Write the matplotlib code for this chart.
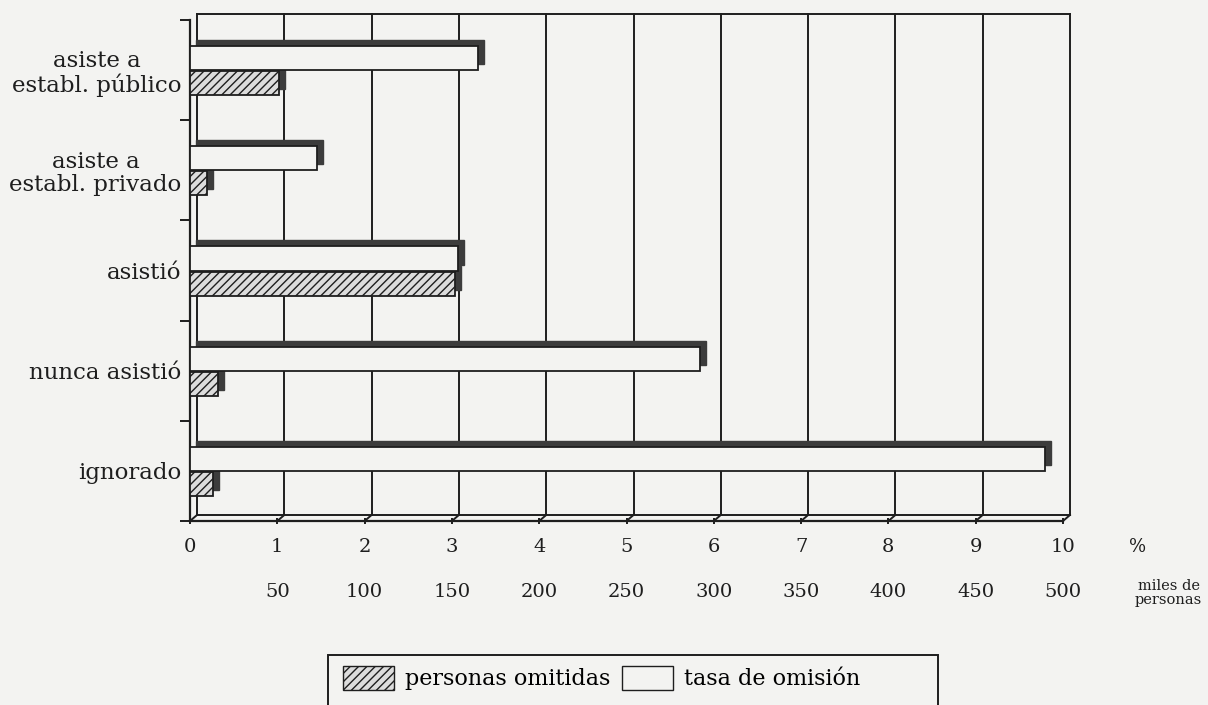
import matplotlib.pyplot as plt
from matplotlib.patches import Patch, Rectangle
import matplotlib.transforms as mtransforms

# Datos
categorias = ["asiste a\nestabl. público", "asiste a\nestabl. privado", "asistió",
              "nunca asistió", "ignorado"]
tasa_omision = [3.30, 1.45, 3.07, 5.84, 9.79]          # %
personas_omitidas = [51, 10, 152, 16, 13]              # miles de personas
ticks_pct = list(range(0, 11))
ticks_miles = [50, 100, 150, 200, 250, 300, 350, 400, 450, 500]

BG = "#f3f3f1"
INK = "#1e1e1e"
SHADOW = "#3c3c3c"
HATCH_FILL = "#dcdcdc"

plt.rcParams["font.family"] = ["DejaVu Serif"]
plt.rcParams["hatch.linewidth"] = 1.0
plt.rcParams["hatch.color"] = INK

fig = plt.figure(figsize=(12.08, 7.05), dpi=100, facecolor=BG)
ax = fig.add_axes([190 / 1208, 184 / 705, 873 / 1208, 501 / 705])
ax.set_facecolor(BG)
ax.set_xlim(0, 10)
ax.set_ylim(5, 0)

# profundidad del "3D" en unidades de datos
dx = 7 / 87.3
dy = 6 / 100.2

# pared del fondo: rejilla y marco
for i in ticks_pct[1:]:
    ax.plot([i + dx, i + dx], [-dy, 5 - dy], color=INK, lw=1.4, zorder=1, clip_on=False)
ax.plot([dx, 10 + dx], [-dy, -dy], color=INK, lw=1.4, zorder=1, clip_on=False)
ax.plot([dx, dx], [-dy, 5 - dy], color=INK, lw=1.4, zorder=1, clip_on=False)
ax.plot([dx, 10 + dx], [5 - dy, 5 - dy], color=INK, lw=1.4, zorder=1, clip_on=False)
for i in ticks_pct:
    ax.plot([i, i + dx], [5, 5 - dy], color=INK, lw=1.4, zorder=1, clip_on=False)

# barras
h = 0.24
pos_tasa = [k + 0.38 for k in range(len(categorias))]
pos_pers = [k + 0.63 for k in range(len(categorias))]
omit_pct = [v / 50 for v in personas_omitidas]

shift = mtransforms.offset_copy(ax.transData, fig=fig, x=6, y=6, units="dots")
ax.barh(pos_pers, omit_pct, height=h, color=SHADOW, edgecolor=SHADOW, transform=shift, zorder=2)
ax.barh(pos_tasa, tasa_omision, height=h, color=SHADOW, edgecolor=SHADOW, transform=shift, zorder=2)
ax.barh(pos_pers, omit_pct, height=h, color=HATCH_FILL, edgecolor=INK, hatch="////",
        lw=1.3, zorder=4)
ax.barh(pos_tasa, tasa_omision, height=h, color=BG, edgecolor=INK, lw=1.3, zorder=4)

# ejes
for s in ["top", "right"]:
    ax.spines[s].set_visible(False)
for s in ["left", "bottom"]:
    ax.spines[s].set_linewidth(1.6)
    ax.spines[s].set_color(INK)

ax.set_yticks([k + 0.5 for k in range(len(categorias))])
ax.set_yticklabels(categorias, fontsize=16.5, multialignment="center", linespacing=1.1)
ax.set_yticks(range(0, 6), minor=True)
ax.tick_params(axis="y", which="major", length=0, pad=6, colors=INK)
ax.tick_params(axis="y", which="minor", length=7, width=1.4, colors=INK)

ax.set_xticks(ticks_pct)
ax.set_xticklabels([str(t) for t in ticks_pct], fontsize=14)
ax.tick_params(axis="x", length=4, width=1.4, direction="inout", pad=10, colors=INK)

for i, m in enumerate(ticks_miles, start=1):
    ax.annotate(str(m), xy=(i, 0), xycoords=("data", "axes fraction"),
                xytext=(0, -51), textcoords="offset points",
                ha="center", va="center", fontsize=14, color=INK)
ax.annotate("%", xy=(10, 0), xycoords=("data", "axes fraction"),
            xytext=(54, -19), textcoords="offset points",
            ha="center", va="center", fontsize=13, color=INK)
ax.annotate("miles de\npersonas", xy=(10, 0), xycoords=("data", "axes fraction"),
            xytext=(76, -52), textcoords="offset points",
            ha="center", va="center", fontsize=10.5, color=INK, linespacing=1.0)

# leyenda: recuadro propio y entradas sin marco
fig.patches.append(Rectangle((328 / 1208, -0.02), 610 / 1208, 1 - 655 / 705 + 0.02,
                             transform=fig.transFigure, facecolor=BG, edgecolor=INK,
                             lw=1.4, zorder=0))
handles = [Patch(facecolor=HATCH_FILL, edgecolor=INK, hatch="////", label="personas omitidas"),
           Patch(facecolor=BG, edgecolor=INK, label="tasa de omisión")]
leg = fig.legend(handles=handles, loc="center left",
                 bbox_to_anchor=(334 / 1208, 1 - 678 / 705),
                 ncol=2, fontsize=16, frameon=False, borderaxespad=0,
                 handlelength=2.3, handleheight=1.3, handletextpad=0.5, columnspacing=0.5)

fig.savefig("out.png", dpi=100, facecolor=BG)
